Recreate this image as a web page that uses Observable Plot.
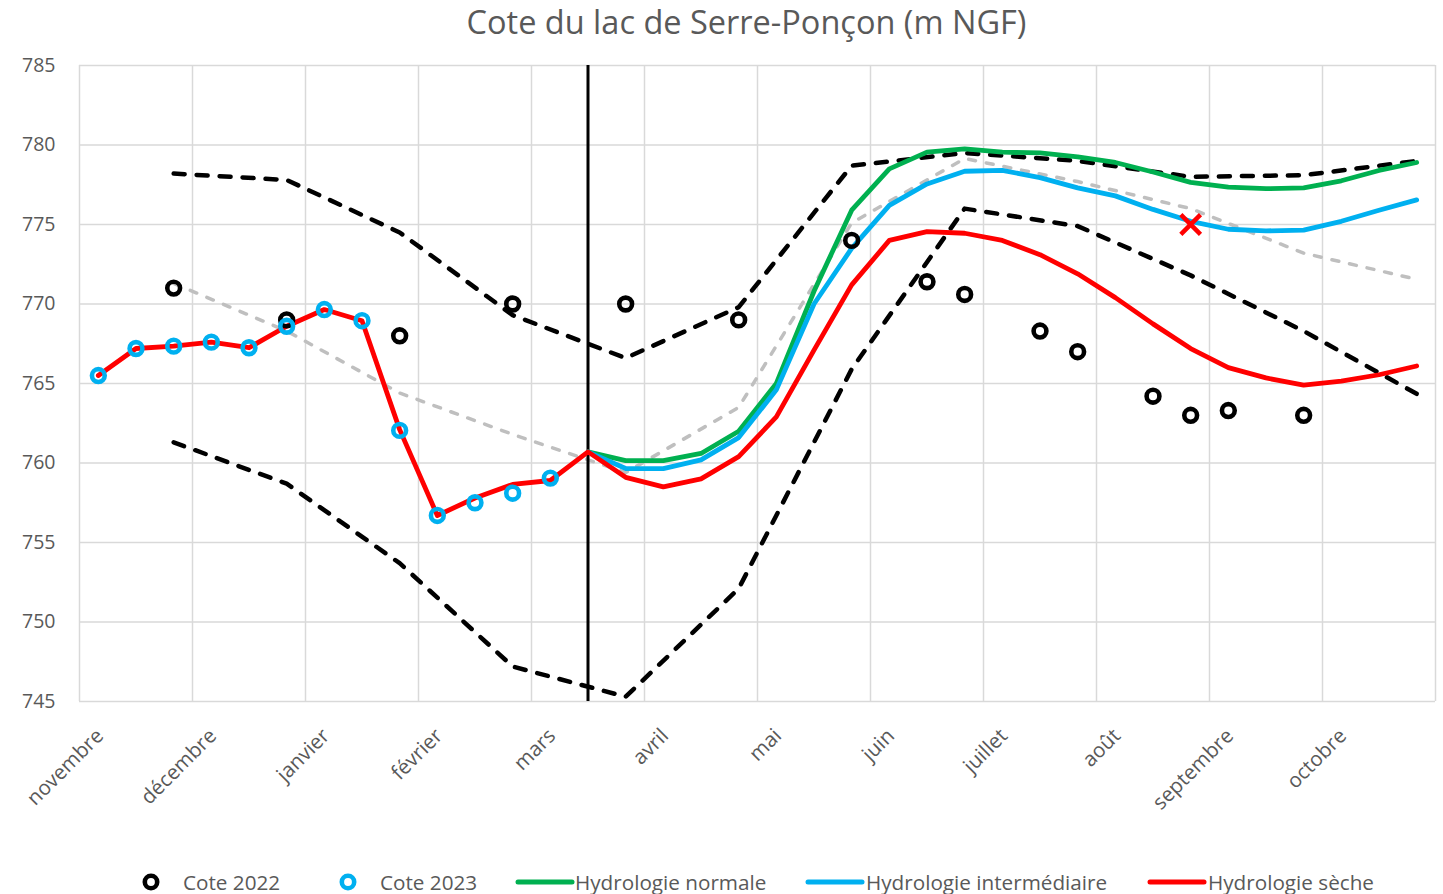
<!DOCTYPE html>
<html><head><meta charset="utf-8">
<script src="https://cdn.jsdelivr.net/npm/d3@7"></script>
<script src="https://cdn.jsdelivr.net/npm/@observablehq/plot@0.6"></script>
<style>
body{margin:0;width:1443px;height:894px;overflow:hidden;background:#fff;font-family:"Open Sans",sans-serif;position:relative}
#title{position:absolute;left:50px;top:0;width:1393px;height:44px;line-height:44px;text-align:center;font-size:32.5px;color:#595959}
#chart{position:absolute;left:0;top:45px}
.lg{position:absolute;top:866px;height:32px;line-height:32px;font-size:20.7px;color:#595959;white-space:nowrap}
</style></head><body>
<div id="title">Cote du lac de Serre-Ponçon (m NGF)</div>
<div id="chart"></div>
<div id="legend"></div>
<script>
const months = ["novembre","décembre","janvier","février","mars","avril","mai","juin","juillet","août","septembre","octobre"];
const yTicks = [745,750,755,760,765,770,775,780,785];

// x positions in 10-day periods ("décades") from 1 November
const cote2022Dec = [2,5,8,11,14,17,20,22,23,25,26,28,29,30,32];
const cote2022 = [771.0,769.0,768.0,770.0,770.0,769.0,774.0,771.4,770.6,768.3,767.0,764.2,763.0,763.3,763.0];

const cote2023Dec = [0,1,2,3,4,5,6,7,8,9,10,11,12];
const cote2023 = [765.5,767.2,767.35,767.6,767.25,768.6,769.65,768.95,762.05,756.7,757.5,758.1,759.05];

const secheDec = d3.range(0,36);
const seche = [765.5,767.2,767.35,767.6,767.25,768.6,769.65,768.95,762.1,756.7,757.8,758.65,758.9,760.7,
  759.1,758.5,759.0,760.4,762.9,767.1,771.2,774.0,774.55,774.45,774.0,773.1,771.9,770.4,768.75,767.2,766.0,765.35,764.9,765.15,765.55,766.1];

const hydroDec = d3.range(13,36);
const normale = [760.7,760.15,760.15,760.6,762.0,765.0,770.8,775.9,778.5,779.55,779.75,779.55,779.5,779.25,778.9,778.3,777.65,777.35,777.25,777.3,777.75,778.4,778.9];
const intermediaire = [760.7,759.65,759.65,760.2,761.6,764.6,770.0,773.5,776.2,777.55,778.35,778.4,777.95,777.3,776.8,775.95,775.2,774.7,774.6,774.65,775.2,775.9,776.55];

const envDec = [2,5,8,11,14,17,20,23,26,29,32,35];
const envHaut = [778.2,777.8,774.5,769.3,766.6,769.8,778.7,779.5,779.0,778.0,778.1,779.0];
const envBas = [761.3,758.7,753.7,747.2,745.3,752.1,765.9,776.0,774.9,771.8,768.3,764.35];
const mediane = [771.3,768.3,764.4,761.8,759.4,763.5,775.1,779.15,777.7,776.0,773.2,771.55];

const aujourdhuiDec = [13];
const croixDec = [29];
const croix = [775.0];

const X = k => (k + 0.5) / 3;
const grey = "#595959";

const chart = Plot.plot({
  width: 1443, height: 815,
  marginLeft: 79, marginRight: 8, marginTop: 20, marginBottom: 159,
  x: {domain: [0, 12], axis: null},
  y: {domain: [745, 785], axis: null},
  style: {fontFamily: "Open Sans", background: "transparent", overflow: "visible"},
  marks: [
    Plot.ruleY(yTicks, {stroke: "#d9d9d9", strokeWidth: 1.5}),
    Plot.ruleX(d3.range(13), {stroke: "#d9d9d9", strokeWidth: 1.5}),
    Plot.text(yTicks, {y: d => d, frameAnchor: "left", textAnchor: "end", dx: -24, fontSize: 19.5, fill: grey}),
    Plot.text(months, {x: (d, i) => i + 0.5, y: 745, rotate: -45, textAnchor: "end", lineAnchor: "middle", dx: -36, dy: 31, fontSize: 20.5, fill: grey}),
    Plot.line(envHaut, {x: envDec.map(X), y: d => d, stroke: "black", strokeWidth: 4.5, strokeDasharray: "11,12", strokeLinecap: "round"}),
    Plot.line(envBas, {x: envDec.map(X), y: d => d, stroke: "black", strokeWidth: 4.5, strokeDasharray: "11,12", strokeLinecap: "round"}),
    Plot.line(mediane, {x: envDec.map(X), y: d => d, stroke: "#bfbfbf", strokeWidth: 3.5, strokeDasharray: "7,11", strokeLinecap: "round"}),
    Plot.ruleX(aujourdhuiDec, {x: X, stroke: "black", strokeWidth: 3}),
    Plot.line(normale, {x: hydroDec.map(X), y: d => d, stroke: "#00b050", strokeWidth: 4.8, strokeLinejoin: "round"}),
    Plot.line(intermediaire, {x: hydroDec.map(X), y: d => d, stroke: "#00b0f0", strokeWidth: 4.8, strokeLinejoin: "round"}),
    Plot.line(seche, {x: secheDec.map(X), y: d => d, stroke: "#ff0000", strokeWidth: 4.8, strokeLinejoin: "round"}),
    Plot.dot(cote2022, {x: cote2022Dec.map(X), y: d => d, r: 6.4, stroke: "black", strokeWidth: 4.6, fill: "none"}),
    Plot.dot(cote2023, {x: cote2023Dec.map(X), y: d => d, r: 6.4, stroke: "#00b0f0", strokeWidth: 4.6, fill: "none"}),
    Plot.dot(croix, {x: croixDec.map(X), y: d => d, symbol: "times", r: 9, stroke: "#ff0000", strokeWidth: 4.5})
  ]
});
document.getElementById("chart").appendChild(chart);

// legend
const legendItems = [
  {label: "Cote 2022", type: "circle", color: "black", sx: 151, tx: 183},
  {label: "Cote 2023", type: "circle", color: "#00b0f0", sx: 348, tx: 380},
  {label: "Hydrologie normale", type: "line", color: "#00b050", sx: 518, tx: 575},
  {label: "Hydrologie intermédiaire", type: "line", color: "#00b0f0", sx: 808, tx: 866},
  {label: "Hydrologie sèche", type: "line", color: "#ff0000", sx: 1150, tx: 1208}
];
const lg = document.getElementById("legend");
const ns = "http://www.w3.org/2000/svg";
const svg = document.createElementNS(ns, "svg");
svg.setAttribute("width", 1443); svg.setAttribute("height", 40);
svg.style.position = "absolute"; svg.style.left = "0px"; svg.style.top = "862px";
for (const it of legendItems) {
  if (it.type === "circle") {
    const c = document.createElementNS(ns, "circle");
    c.setAttribute("cx", it.sx); c.setAttribute("cy", 20); c.setAttribute("r", 6.2);
    c.setAttribute("fill", "none"); c.setAttribute("stroke", it.color); c.setAttribute("stroke-width", 4.6);
    svg.appendChild(c);
  } else {
    const l = document.createElementNS(ns, "line");
    l.setAttribute("x1", it.sx); l.setAttribute("x2", it.sx + 54); l.setAttribute("y1", 20); l.setAttribute("y2", 20);
    l.setAttribute("stroke", it.color); l.setAttribute("stroke-width", 5); l.setAttribute("stroke-linecap", "round");
    svg.appendChild(l);
  }
  const d = document.createElement("div");
  d.className = "lg"; d.style.left = it.tx + "px"; d.textContent = it.label;
  lg.appendChild(d);
}
lg.appendChild(svg);
</script>
</body></html>
